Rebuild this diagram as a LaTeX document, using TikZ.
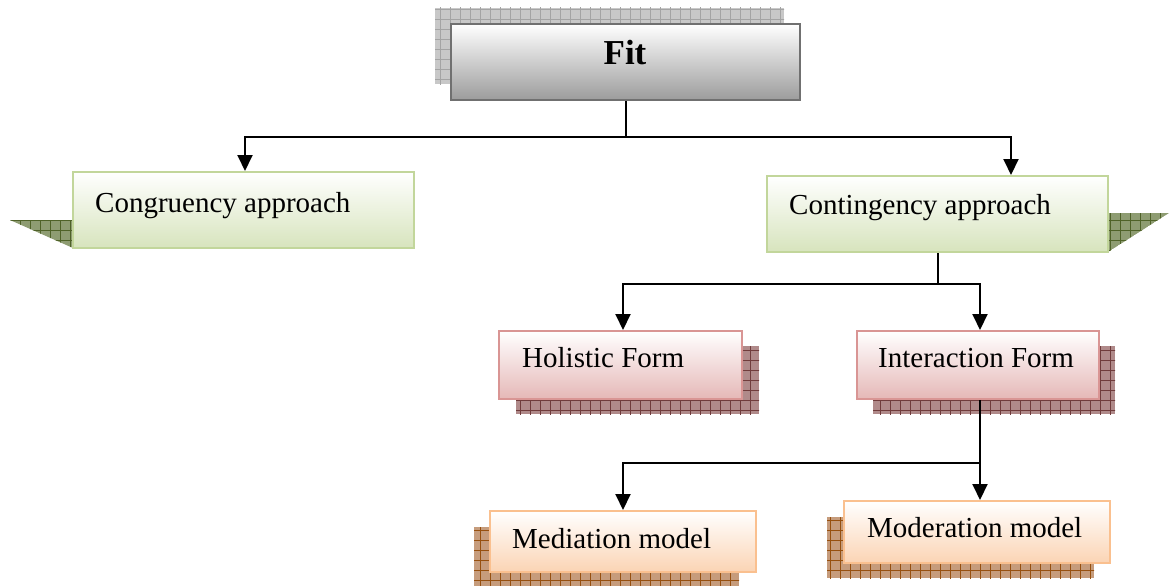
\documentclass[tikz,border=0pt]{standalone}
\usepackage{fontspec}
\setmainfont{Liberation Serif}
\usetikzlibrary{arrows.meta}

\definecolor{fitline}{HTML}{707070}
\definecolor{fitbot}{HTML}{9C9C9C}
\definecolor{fitcell}{HTML}{C8C8C8}
\definecolor{fitgrid}{HTML}{A4A4A4}
\definecolor{grnline}{HTML}{C2D69B}
\definecolor{grnbot}{HTML}{D7E4BD}
\definecolor{grncell}{HTML}{8E9C72}
\definecolor{grngrid}{HTML}{4F6228}
\definecolor{pnkline}{HTML}{D99594}
\definecolor{pnkbot}{HTML}{E5B8B7}
\definecolor{pnkcell}{HTML}{B08A8A}
\definecolor{pnkgrid}{HTML}{703C3C}
\definecolor{orgline}{HTML}{FAC08F}
\definecolor{orgbot}{HTML}{FBD4B4}
\definecolor{orgcell}{HTML}{C69C7C}
\definecolor{orggrid}{HTML}{97500F}

\tikzset{
  box/.style={rectangle, draw, line width=2pt, inner sep=0pt, top color=white},
  fitbox/.style={box, draw=fitline, bottom color=fitbot},
  grnbox/.style={box, draw=grnline, bottom color=grnbot},
  pnkbox/.style={box, draw=pnkline, bottom color=pnkbot},
  orgbox/.style={box, draw=orgline, bottom color=orgbot},
  lbl/.style={inner sep=0pt, font=\fontsize{29}{34}\selectfont, anchor=base west},
  link/.style={line width=2pt, draw=black},
  arrow/.style={link, -{Triangle[width=15pt,length=16pt]}},
}

% textured shadow: base fill crossed by a coarse 10-unit grid
\newcommand{\gridshade}[3]{%
  \begin{scope}
    \clip #3;
    \fill[#1] #3;
    \foreach \gx in {0,10,...,1170} \draw[#2, line width=1pt] (\gx,0) -- (\gx,586);
    \foreach \gy in {0,10,...,590} \draw[#2, line width=1pt] (0,\gy) -- (1170,\gy);
  \end{scope}}

\begin{document}
\begin{tikzpicture}[x=1pt,y=-1pt]
\useasboundingbox (0,0) rectangle (1170,586);

% shadows behind the boxes
\gridshade{fitcell}{fitgrid}{(435,8) rectangle (784,84)}
\gridshade{grncell}{grngrid}{(10,220) -- (100,220) -- (100,248) -- (73,248) -- cycle}
\gridshade{grncell}{grngrid}{(1169,213) -- (1080,213) -- (1080,252) -- (1108,252) -- cycle}
\gridshade{pnkcell}{pnkgrid}{(516,346) rectangle (759,414)}
\gridshade{pnkcell}{pnkgrid}{(873,346) rectangle (1115,414)}
\gridshade{orgcell}{orggrid}{(474,527) rectangle (739,586)}
\gridshade{orgcell}{orggrid}{(827,517) rectangle (1094,578)}

% boxes
\node[fitbox, minimum width=349pt, minimum height=76pt] (fit) at (625.5,62) {};
\node[grnbox, minimum width=341pt, minimum height=76pt] (cong) at (243.5,210) {};
\node[grnbox, minimum width=341pt, minimum height=76pt] (cont) at (937.5,214) {};
\node[pnkbox, minimum width=243pt, minimum height=68pt] (hol) at (620.5,365) {};
\node[pnkbox, minimum width=242pt, minimum height=68pt] (inter) at (978,365) {};
\node[orgbox, minimum width=266pt, minimum height=61pt] (med) at (623,541.5) {};
\node[orgbox, minimum width=266pt, minimum height=62pt] (mod) at (977,532) {};

% labels
\node[inner sep=0pt, anchor=base, font=\fontsize{35}{40}\selectfont\bfseries] (fitT) at (625,64) {Fit};
\node[lbl] (congT) at (95,212) {Congruency approach};
\node[lbl] (contT) at (789,214) {Contingency approach};
\node[lbl] (holT) at (522,367) {Holistic Form};
\node[lbl] (interT) at (878,367) {Interaction Form};
\node[lbl] (medT) at (512,548) {Mediation model};
\node[lbl] (modT) at (867,537) {Moderation model};

% connectors
\draw[link] (fit.south) -- ++(0,36) coordinate (j1);
\draw[arrow] (j1) -| ([xshift=1.5pt]cong.north);
\draw[arrow] (j1) -| ([xshift=73.5pt]cont.north);

\draw[link] (cont.south) -- ++(0,31) coordinate (j2);
\draw[arrow] (j2) -| ([xshift=2.5pt]hol.north);
\draw[arrow] (j2) -| ([xshift=2pt]inter.north);

\draw[link] ([xshift=2pt]inter.south) -- ++(0,63) coordinate (j3);
\draw[arrow] (j3) -| (med.north);
\draw[arrow] (j3) -- ([xshift=3pt]mod.north);
\end{tikzpicture}
\end{document}
